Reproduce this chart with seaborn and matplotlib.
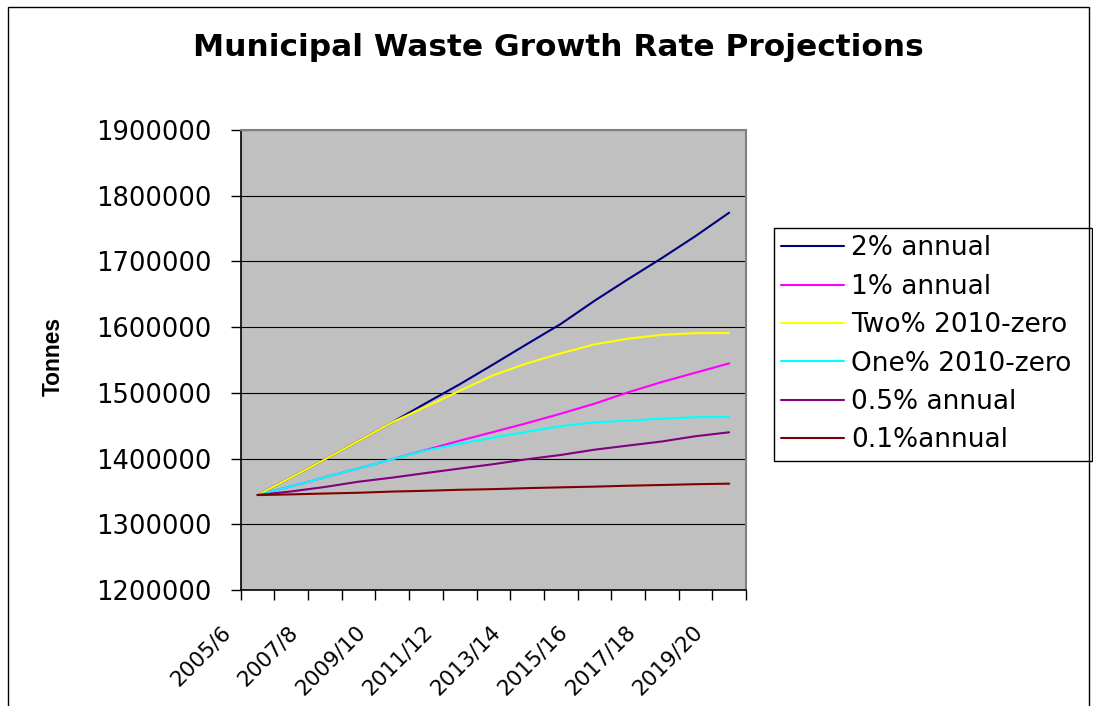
import numpy as np
import pandas as pd
import matplotlib
matplotlib.use('Agg')
import matplotlib.pyplot as plt
import seaborn as sns
from matplotlib.lines import Line2D
from matplotlib.patches import Rectangle
from matplotlib.ticker import FuncFormatter
import matplotlib.transforms as mtransforms

# ---------------- data ----------------
years = ['2005/6', '2006/7', '2007/8', '2008/9', '2009/10', '2010/11', '2011/12',
         '2012/13', '2013/14', '2014/15', '2015/16', '2016/17', '2017/18',
         '2018/19', '2019/20']

two_pct_annual = [1344500, 1371400, 1398800, 1426800, 1455300, 1484400, 1513000,
                  1543400, 1574300, 1604800, 1640000, 1673000, 1705000, 1738500, 1774200]
one_pct_annual = [1344500, 1357900, 1371500, 1385200, 1399100, 1413100, 1427200,
                  1440500, 1454000, 1468300, 1483500, 1500800, 1516500, 1530700, 1544900]
two_pct_2010_zero = [1344500, 1371400, 1398800, 1426800, 1455300, 1479000, 1503000,
                     1527000, 1544900, 1560100, 1573800, 1582400, 1588300, 1590800, 1591100]
one_pct_2010_zero = [1344500, 1357900, 1371500, 1385200, 1399100, 1412500, 1422500,
                     1431800, 1440900, 1449300, 1455100, 1457700, 1460600, 1463000, 1463200]
half_pct_annual = [1344500, 1350000, 1356800, 1364800, 1371000, 1378000, 1384800,
                   1391500, 1399000, 1405500, 1413500, 1419800, 1426000, 1434000, 1440000]
tenth_pct_annual = [1344500, 1345500, 1346800, 1348000, 1349800, 1351000, 1352500,
                    1353500, 1355000, 1356200, 1357300, 1358700, 1359800, 1361000, 1361800]

series_names = ['2% annual', '1% annual', 'Two% 2010-zero', 'One% 2010-zero',
                '0.5% annual', '0.1%annual']
series_values = [two_pct_annual, one_pct_annual, two_pct_2010_zero,
                 one_pct_2010_zero, half_pct_annual, tenth_pct_annual]
series_colors = ['#000080', '#FF00FF', '#FFFF00', '#00FFFF', '#800080', '#800000']

y_ticks = [1200000, 1300000, 1400000, 1500000, 1600000, 1700000, 1800000, 1900000]

title = 'Municipal Waste Growth Rate Projections'
y_label = 'Tonnes'

# ---------------- build frame ----------------
df = pd.concat([pd.DataFrame({'Year': years, 'Tonnes': v, 'Series': n})
                for n, v in zip(series_names, series_values)], ignore_index=True)
palette = dict(zip(series_names, series_colors))

sns.set_theme(style='white')
plt.rcParams['font.family'] = ['DejaVu Sans']
plt.rcParams['text.color'] = 'black'
plt.rcParams['axes.labelcolor'] = 'black'
plt.rcParams['xtick.color'] = 'black'
plt.rcParams['ytick.color'] = 'black'

W, H = 1093, 706
fig = plt.figure(figsize=(W / 100, H / 100), dpi=100)
ax_l, ax_r, ax_t, ax_b = 240.7, 746.0, 130.0, 590.0
ax = fig.add_axes([ax_l / W, 1 - ax_b / H, (ax_r - ax_l) / W, (ax_b - ax_t) / H])
ax.set_facecolor('#C0C0C0')

sns.lineplot(data=df, x='Year', y='Tonnes', hue='Series', hue_order=series_names,
             palette=palette, linewidth=1.5, sort=False, ax=ax, legend=False)

ax.set_xlim(-0.5, len(years) - 0.5)
ax.set_ylim(y_ticks[0], y_ticks[-1])
ax.set_yticks(y_ticks)
ax.yaxis.set_major_formatter(FuncFormatter(lambda v, p: f'{int(round(v))}'))
ax.grid(axis='y', color='black', linewidth=0.8)
ax.grid(axis='x', visible=False)
ax.set_axisbelow(True)

# x ticks: marks at category boundaries, labels every other category
ax.set_xticks(range(0, len(years), 2))
ax.set_xticklabels(years[::2])
ax.set_xticks(np.arange(-0.5, len(years), 1), minor=True)
ax.tick_params(axis='x', which='major', bottom=True, length=0, pad=28, labelsize=15.5,
               labelcolor='black')
ax.tick_params(axis='x', which='minor', bottom=True, length=7, width=1, color='black',
               direction='out')
ax.tick_params(axis='y', which='major', left=True, length=7, width=1, color='black',
               direction='out', pad=14, labelsize=18.5, labelcolor='black')
shift = mtransforms.ScaledTranslation(-30 / 100, 0, fig.dpi_scale_trans)
for lab in ax.get_xticklabels():
    lab.set_rotation(45)
    lab.set_ha('right')
    lab.set_va('center')
    lab.set_rotation_mode('anchor')
    lab.set_transform(lab.get_transform() + shift)

ax.set_xlabel('')
ax.set_ylabel(y_label, fontsize=16.4, fontweight='bold', family='Liberation Sans',
              va='center', color='black')
ax.yaxis.set_label_coords((53.5 - ax_l) / (ax_r - ax_l), (ax_b - 357) / (ax_b - ax_t))

for s in ['left', 'bottom']:
    ax.spines[s].set_color('black')
    ax.spines[s].set_linewidth(1.2)
for s in ['top', 'right']:
    ax.spines[s].set_color('#808080')
    ax.spines[s].set_linewidth(1.5)

handles = [Line2D([0], [0], color=c, lw=1.5) for c in series_colors]
lx0, lx1, ly0, ly1 = 773.6, 1092.0, 228.0, 460.0
leg = ax.legend(handles, series_names, loc='upper left', mode='expand',
                bbox_to_anchor=(lx0 / W, 1 - ly1 / H, (lx1 - lx0) / W, (ly1 - ly0) / H),
                bbox_transform=fig.transFigure,
                frameon=True, fancybox=False, edgecolor='black', framealpha=1,
                facecolor='white', fontsize=19, handlelength=2.39, handletextpad=0.28,
                labelspacing=0.47, borderpad=0.28, borderaxespad=0)
leg.get_frame().set_linewidth(1)
for t in leg.get_texts():
    t.set_color('black')

fig.text(558 / W, 1 - 47 / H, title, ha='center', va='center', fontsize=22.5,
         fontweight='bold', color='black')

fig.add_artist(Rectangle((8 / W, -0.05), (1089 - 8) / W, 1 - 7 / H + 0.05,
                         transform=fig.transFigure, fill=False, edgecolor='black', lw=1))

fig.savefig('out.png', dpi=100)
